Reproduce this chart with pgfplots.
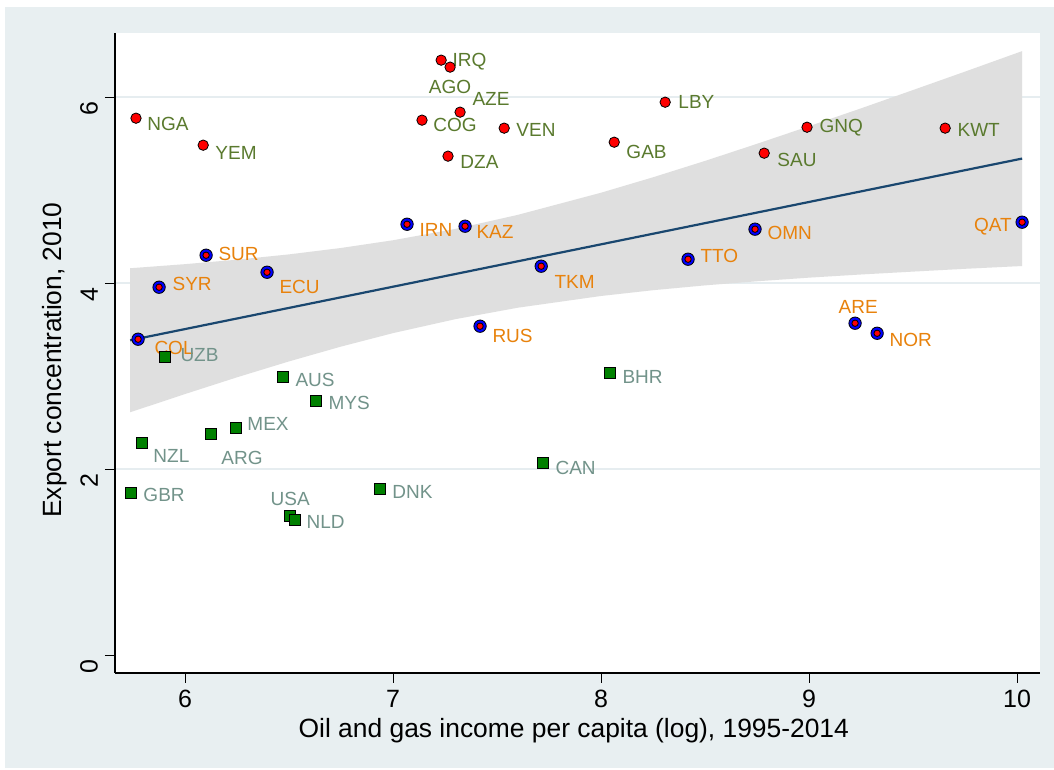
\documentclass[border=0pt]{standalone}
\usepackage{fontspec}
\setmainfont{Liberation Sans}
\usepackage{pgfplots}
\pgfplotsset{compat=1.18}
\usepackage{pgfplotstable}
\definecolor{bgc}{HTML}{E8EFF1}
\definecolor{gridc}{HTML}{E6EDF0}
\definecolor{bandc}{HTML}{DFDFDF}
\definecolor{fitc}{HTML}{1A476F}
\definecolor{olivec}{HTML}{5A7A2E}
\definecolor{orangec}{HTML}{E8820C}
\definecolor{tealc}{HTML}{72938A}
\definecolor{greenc}{HTML}{008000}

% high concentration, red dots
\pgfplotstableread{
x y
5.764 5.774
6.087 5.484
7.231 6.398
7.274 6.323
7.322 5.839
7.139 5.753
7.264 5.366
7.534 5.667
8.308 5.946
8.063 5.516
8.990 5.677
8.784 5.398
9.654 5.667
}\tabred
% blue ring with red centre
\pgfplotstableread{
x y
7.067 4.634
7.346 4.613
6.101 4.301
5.875 3.957
6.394 4.118
5.774 3.398
7.418 3.538
7.712 4.183
8.418 4.258
8.740 4.581
10.024 4.656
9.221 3.570
9.327 3.462
}\tabblue
% green squares
\pgfplotstableread{
x y
5.904 3.204
6.471 2.989
6.630 2.731
6.245 2.441
6.125 2.376
5.793 2.280
5.740 1.742
6.505 1.495
6.529 1.452
6.938 1.785
7.721 2.065
8.043 3.032
}\tabgreen

\newcommand{\lbl}{\fontsize{9.5}{11}\selectfont}

\begin{document}
\begin{tikzpicture}
\fill[white] (-57.5pt,-48.5pt) rectangle (469.5pt,336.5pt);
\fill[bgc] (-55pt,-47.5pt) rectangle (469.5pt,333pt);
\begin{axis}[
  scale only axis, width=462.5pt, height=320pt,
  xmin=5.663, xmax=10.11, ymin=-0.19, ymax=6.69,
  axis x line*=bottom, axis y line*=left,
  axis line style={line width=0.8pt, -},
  axis background/.style={fill=white},
  xtick={6,7,8,9,10}, ytick={2,4,6},
  extra y ticks={0}, extra y tick style={grid=none},
  ymajorgrids, grid style={gridc, line width=1pt},
  tick align=outside, major tick length=5pt,
  tick style={black, line width=0.5pt},
  /pgf/number format/assume math mode=true,
  ticklabel style={font=\fontsize{12.5}{15}\selectfont},
  yticklabel style={rotate=90, anchor=south, xshift=-5.5pt},
  xlabel={Oil and gas income per capita (log), 1995-2014},
  ylabel={Export concentration, 2010},
  label style={font=\fontsize{13.2}{15}\selectfont},
  xlabel style={at={(axis description cs:0.496,-0.0906)}, anchor=center},
  ylabel style={at={(axis description cs:-0.0649,0.489)}, anchor=center},
  clip=false,
]
% confidence band
\addplot[fill=bandc, draw=none] coordinates {
(5.736,4.161) (6.0,4.205) (6.25,4.253) (6.5,4.310) (6.75,4.379) (7.0,4.462)
(7.3,4.584) (7.6,4.735) (8.0,4.973) (8.25,5.139) (8.5,5.315) (8.75,5.499)
(9.0,5.688) (9.25,5.880) (9.5,6.077) (9.75,6.275) (10.024,6.495)
(10.024,4.185) (9.75,4.155) (9.5,4.125) (9.25,4.094) (9.0,4.060) (8.75,4.021)
(8.5,3.977) (8.25,3.925) (8.0,3.863) (7.6,3.737) (7.3,3.614) (7.0,3.464)
(6.75,3.319) (6.5,3.160) (6.25,2.989) (6.0,2.809) (5.736,2.613)
} -- cycle;
% fitted line
\addplot[fitc, line width=1.1pt] coordinates {(5.736,3.387) (10.024,5.340)};

\addplot[only marks, mark=*, mark size=2.6pt, mark options={fill=red, draw=none}] table {\tabred};
\addplot[only marks, mark=*, mark size=3.1pt, mark options={fill=blue, draw=none}] table {\tabblue};
\addplot[only marks, mark=*, mark size=1.6pt, mark options={fill=red, draw=none}] table {\tabblue};
\addplot[only marks, mark=square*, mark size=2.7pt, mark options={fill=greenc, draw=none}] table {\tabgreen};

\begin{scope}[every node/.style={font=\lbl, inner sep=0pt, anchor=west}]
% red group labels
\node[olivec] at (axis cs:7.284,6.387) {IRQ};
\node[olivec, anchor=center] at (axis cs:7.274,6.108) {AGO};
\node[olivec] at (axis cs:7.380,5.978) {AZE};
\node[olivec] at (axis cs:7.192,5.699) {COG};
\node[olivec] at (axis cs:7.322,5.301) {DZA};
\node[olivec] at (axis cs:7.591,5.645) {VEN};
\node[olivec] at (axis cs:8.370,5.946) {LBY};
\node[olivec] at (axis cs:8.120,5.409) {GAB};
\node[olivec] at (axis cs:9.048,5.667) {GNQ};
\node[olivec] at (axis cs:8.846,5.323) {SAU};
\node[olivec] at (axis cs:9.712,5.645) {KWT};
\node[olivec] at (axis cs:5.817,5.710) {NGA};
\node[olivec] at (axis cs:6.144,5.398) {YEM};
% blue group labels
\node[orangec] at (axis cs:7.125,4.570) {IRN};
\node[orangec] at (axis cs:7.399,4.548) {KAZ};
\node[orangec] at (axis cs:6.159,4.312) {SUR};
\node[orangec] at (axis cs:5.938,3.989) {SYR};
\node[orangec] at (axis cs:6.452,3.957) {ECU};
\node[orangec] at (axis cs:5.851,3.301) {COL};
\node[orangec] at (axis cs:7.476,3.430) {RUS};
\node[orangec] at (axis cs:7.774,4.011) {TKM};
\node[orangec] at (axis cs:8.476,4.290) {TTO};
\node[orangec] at (axis cs:8.798,4.538) {OMN};
\node[orangec, anchor=east] at (axis cs:9.976,4.613) {QAT};
\node[orangec, anchor=center] at (axis cs:9.236,3.742) {ARE};
\node[orangec] at (axis cs:9.385,3.387) {NOR};
% green group labels
\node[tealc] at (axis cs:5.976,3.226) {UZB};
\node[tealc] at (axis cs:6.529,2.957) {AUS};
\node[tealc] at (axis cs:6.688,2.710) {MYS};
\node[tealc] at (axis cs:6.298,2.484) {MEX};
\node[tealc] at (axis cs:6.173,2.118) {ARG};
\node[tealc] at (axis cs:5.846,2.140) {NZL};
\node[tealc] at (axis cs:5.798,1.720) {GBR};
\node[tealc, anchor=center] at (axis cs:6.505,1.677) {USA};
\node[tealc] at (axis cs:6.582,1.430) {NLD};
\node[tealc] at (axis cs:6.995,1.753) {DNK};
\node[tealc] at (axis cs:7.779,2.011) {CAN};
\node[tealc] at (axis cs:8.101,2.989) {BHR};
\end{scope}
\end{axis}
\end{tikzpicture}
\end{document}
